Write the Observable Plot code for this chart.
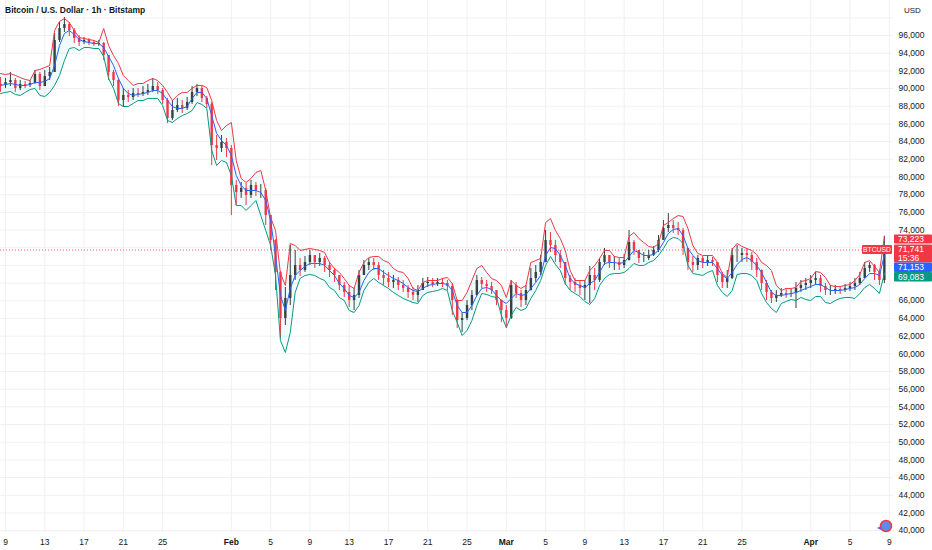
<!DOCTYPE html>
<html><head><meta charset="utf-8">
<script src="https://cdn.jsdelivr.net/npm/d3@7"></script>
<script src="https://cdn.jsdelivr.net/npm/@observablehq/plot@0.6"></script>
<style>html,body{margin:0;padding:0;background:#fff;}svg{display:block}</style>
</head><body><div id="chart"></div>
<script>
// 12-hour samples starting 2026-01-08 12:00 UTC
const startTime = "2026-01-08T12:00:00Z";
const firstOpen = 90500;
const closes = [
90350,90690,90910,90010,90460,90350,90570,91590,90230,91360,
91820,95440,96790,97250,96570,95660,95210,95440,95210,94980,
95100,93740,91820,90910,88650,89220,88990,89440,89330,89560,
89780,90230,89780,88650,86610,87520,88080,87750,88420,89560,
90010,88880,88200,83560,83220,83900,83220,79040,78250,78700,
77910,79040,78470,78470,75640,72820,69200,63990,66260,68860,
69990,69420,70330,71120,70330,70780,69990,69420,68860,67730,
66940,66030,66600,68860,69990,70330,69990,68860,68520,68070,
68290,67730,67390,66940,66600,67160,67950,68070,67840,68070,
67950,67610,66030,63770,63990,65460,66600,68290,67840,67610,
67160,66030,64900,63990,67730,66820,66030,67160,68520,69200,
70330,72820,72250,71120,70330,68520,68070,67730,67390,67730,
68860,68290,70330,71120,70330,70330,69990,70550,72590,71690,
70780,70780,71120,71690,72820,74170,74510,74170,73950,71910,
70330,69990,70780,70330,70550,70330,68860,68070,68520,71120,
71120,71350,71120,70330,69420,67950,66940,66260,66600,66820,
66710,66820,67390,67730,67950,68290,68520,67610,67160,67160,
67270,67160,67390,67610,67950,68520,69650,69990,69200,68290,
71741];
const highs = [
91250,91140,91820,91140,90910,90800,90910,92040,91820,92040,
92380,96230,97470,98040,97470,96790,96000,95780,95660,95440,
95440,95210,93740,92040,91140,90010,89780,90010,90010,90230,
90460,91140,90690,90010,88880,88650,88880,88650,88990,90230,
90460,90350,89100,88420,84690,84690,84350,83560,79600,79380,
79260,79600,79380,79150,78700,75640,72900,69300,67500,72250,
71690,70780,71010,71690,71120,71350,71010,70330,69650,68860,
68070,67730,67390,69420,70550,70780,70780,70330,69420,69200,
68860,68630,68290,67730,67500,67730,68520,68630,68520,68520,
68520,68290,67950,66100,64670,66030,67160,68860,68630,68290,
68070,67160,66100,65460,68290,68070,67160,67730,69650,69990,
71120,73950,73720,72820,71690,70330,68860,68520,68290,68290,
69880,69650,70780,71910,71120,71010,70780,71230,73950,72820,
71690,71460,71690,72140,73380,75080,75870,75080,74850,74170,
71910,71010,71120,71010,71120,70890,70330,69200,69420,71910,
72250,71910,71910,71460,70780,69500,68290,67160,67160,67390,
67390,67270,68070,68290,68520,68860,69200,68860,67950,67730,
67730,67610,67840,68070,68520,69200,70330,70330,70100,69420,
73300];
const lows = [
89560,90010,90230,89560,89780,90010,90120,90460,89780,90230,
90910,91820,95210,96340,95890,95100,94760,94980,94870,94760,
94760,93170,90910,90230,87970,87860,88420,88650,88990,89100,
89220,89560,89330,88200,86050,86390,87290,87180,87520,88200,
89100,88420,87750,81300,81860,82770,82200,75640,76770,77570,
76770,77570,77790,77570,74510,71690,67160,61730,63200,65460,
68290,68740,69200,69990,69650,69880,69200,68630,68070,67160,
66370,65240,64900,66260,68860,69420,69420,68290,67730,67500,
67390,67160,66940,66260,66030,65800,67160,67500,67500,67610,
67500,67160,64330,62860,62410,63770,64900,66500,67390,66940,
66710,65460,63540,62860,63900,66260,65240,65460,67100,68070,
68860,70300,71460,70330,69650,67730,67160,66940,66600,66030,
65690,67160,68070,69990,69650,69420,69420,69650,70500,71120,
70220,70330,70550,71010,71460,72820,73720,73610,73380,71120,
69420,69200,69420,69650,69880,69880,68070,67390,67390,68400,
70330,70330,70330,69420,68630,67160,66030,65690,65800,66370,
66260,66370,65130,66940,67160,67390,67730,66940,66600,66600,
66710,66710,66940,67050,67160,67730,68520,69200,68290,67730,
67950];
const upper = [
91700,91590,91700,91480,91250,91030,90910,92040,92160,92380,
92610,96570,97590,97920,97470,96570,95780,95660,95550,95440,
95210,96790,94870,93740,92840,91480,90910,90350,90570,90570,
90910,91140,90910,90350,89560,88650,89220,89560,89560,90010,
90350,90350,90120,88650,86390,85260,85820,86160,81860,79830,
79380,79830,80510,80730,78500,75400,73950,69080,67730,72480,
72250,71690,71800,71910,71800,71690,71460,70330,69650,69200,
68520,67730,67390,69200,70330,70890,71010,71010,70550,70330,
69650,69310,69200,68520,67390,67160,68070,68290,68290,68290,
68520,68630,67950,66030,66030,66940,68290,69650,69990,69200,
68520,68290,67730,66370,68290,67730,67390,67730,70330,70550,
70780,74850,75300,73950,73040,71690,69420,68290,68290,68290,
69420,69990,70780,71690,71690,71010,70890,70890,73270,73720,
73040,72590,72140,72020,72480,74510,74850,75300,75640,75530,
74170,72250,71350,71120,71120,71120,70330,69080,68630,71800,
72480,72140,71910,71690,71230,70330,69990,69420,67730,67160,
67390,67390,67500,68180,68290,68520,69310,69200,68630,67730,
67610,67610,67730,67840,68290,68970,70330,70550,69880,69200,
73223];
const lower = [
89440,89560,89670,89330,89220,89560,89890,90010,89220,89100,
89560,90350,91480,93170,94530,94640,94300,94640,94640,94530,
94530,93630,91140,90010,88310,87970,87970,88310,88650,88650,
88880,88880,88880,88080,86390,86160,86610,86950,87180,87520,
88420,88200,87750,83000,81300,81860,81640,80170,76770,76770,
76210,76770,77340,75640,73950,72250,68860,61500,60150,62410,
66940,68520,68860,68970,68860,68520,68290,67500,67160,66370,
66030,64900,64670,65460,67160,68070,68520,68070,67730,67390,
66940,66600,66260,66030,65800,65690,66600,66940,67050,67160,
67390,67160,64900,63540,62070,62640,63770,65460,66820,66710,
66480,66370,64330,62980,64330,65240,64900,65130,66260,67160,
68290,69990,71010,70100,69420,67950,67160,66820,66480,65920,
65580,66260,67730,68520,68970,69080,69080,69200,69650,70220,
69990,69990,70330,70550,71120,71910,72820,73160,73040,72480,
69990,69080,68970,68860,69200,69420,67730,66940,66480,67160,
68970,69080,69080,68860,68290,66820,65800,65130,64670,65690,
65920,66140,66030,66370,66140,66030,66480,66480,65800,65690,
66030,66260,66370,66370,66260,66820,67500,67840,67390,66820,
69083];
const mid = [
90350,90460,90570,90460,90350,90350,90460,90690,90690,90800,
91140,92610,94870,96230,96570,96110,95550,95320,95210,95100,
95100,94640,93630,92610,91140,90010,89440,89220,89330,89440,
89560,89780,89780,89440,88650,87970,87750,87750,87970,88880,
89560,89560,88880,86950,84920,84130,83560,82430,80170,79040,
78470,78470,78470,78250,77340,75080,71120,66600,64900,67390,
68860,69420,69880,70220,70220,70220,69990,69420,68860,67950,
67390,66600,66370,66940,68290,69200,69650,69650,69200,68860,
68520,68290,67950,67500,67160,67050,67390,67730,67840,67950,
67950,67840,67160,65460,64670,64670,65460,66600,67390,67500,
67270,66600,66030,65690,66260,66820,66600,66710,67390,68070,
68860,71120,72020,71910,71120,69990,68520,67950,67730,67500,
67950,68290,69200,70220,70330,70330,70220,70330,71010,71690,
71460,71120,71120,71230,71690,72590,73610,74060,74170,73380,
71910,71120,70550,70330,70330,70330,69650,68860,68520,69200,
70100,70670,70890,70550,69990,69200,68070,66940,66600,66600,
66710,66820,66940,67160,67390,67610,67840,67840,67500,67160,
67160,67160,67270,67390,67500,67840,68520,69080,69080,68860,
71153];

const lastPrice = 71741;
const lastLabels = {upper: 73223, price: 71741, mid: 71153, lower: 69083};
const countdown = "15:36";
const title = "Bitcoin / U.S. Dollar · 1h · Bitstamp";
const currency = "USD";
const symbol = "BTCUSD";
const xTickDates = ["2026-01-09","2026-01-13","2026-01-17","2026-01-21","2026-01-25",
  "2026-02-01","2026-02-05","2026-02-09","2026-02-13","2026-02-17","2026-02-21","2026-02-25",
  "2026-03-01","2026-03-05","2026-03-09","2026-03-13","2026-03-17","2026-03-21","2026-03-25",
  "2026-04-01","2026-04-05","2026-04-09"];
const yTickValues = d3.range(40000, 98001, 2000);
// labels hidden behind the header and the last-value tags on the price scale
const yHiddenLabels = [98000, 72000, 70000, 68000];

const n = Math.min(closes.length, highs.length, lows.length, upper.length, lower.length, mid.length);
const t0 = Date.parse(startTime);
const data = d3.range(n).map(i => ({
  t: new Date(t0 + i * 12 * 3600e3),
  open: i === 0 ? firstOpen : closes[i - 1],
  close: closes[i], high: highs[i], low: lows[i],
  upper: upper[i], lower: lower[i], mid: mid[i]
}));
const xTicks = xTickDates.map(d => new Date(d + "T00:00:00Z"));
const dayTicks = xTicks.filter(d => d.getUTCDate() !== 1);
const monthTicks = xTicks.filter(d => d.getUTCDate() === 1);
const yLabelTicks = yTickValues.filter(v => !yHiddenLabels.includes(v));

const UP = "#37423f", DOWN = "#f23645";
const col = d => d.close >= d.open ? UP : DOWN;
const FONT = "Liberation Sans, Arial, sans-serif";

const chart = Plot.plot({
  width: 932, height: 550,
  marginLeft: 0, marginRight: 39, marginTop: 0, marginBottom: 18,
  style: {fontFamily: FONT, fontSize: "8.5px", color: "#131722", background: "#fff"},
  x: {type: "utc", label: null, domain: [new Date("2026-01-08T11:47:00Z"), new Date("2026-04-09T10:20:00Z")]},
  y: {label: null, domain: [39790, 99960]},
  marks: [
    Plot.gridX(xTicks, {stroke: "#eef0f3", strokeOpacity: 1}),
    Plot.gridY(yTickValues, {stroke: "#eef0f3", strokeOpacity: 1}),
    Plot.areaY(data, {x: "t", y1: "lower", y2: "upper", fill: "#26c6da", fillOpacity: 0.07}),
    Plot.ruleY([lastPrice], {stroke: "#f23645", strokeDasharray: "1,2", strokeWidth: 0.8}),
    Plot.ruleX(data, {x: "t", y1: "low", y2: "high", stroke: col, strokeWidth: 1}),
    Plot.ruleX(data, {x: "t", y1: "open", y2: "close", stroke: col, strokeWidth: 2.4}),
    Plot.line(data, {x: "t", y: "upper", stroke: "#f23645", strokeWidth: 1}),
    Plot.line(data, {x: "t", y: "lower", stroke: "#089981", strokeWidth: 1}),
    Plot.line(data, {x: "t", y: "mid", stroke: "#2962ff", strokeWidth: 1}),
    Plot.axisX(dayTicks, {tickSize: 0, tickPadding: 6, fontSize: 8.5, fill: "#131722", label: null,
      tickFormat: d => String(d.getUTCDate())}),
    Plot.axisX(monthTicks, {tickSize: 0, tickPadding: 6, fontSize: 8.5, fill: "#131722", fontWeight: "bold", label: null,
      tickFormat: d3.utcFormat("%b")}),
    Plot.axisY(yLabelTicks, {anchor: "right", tickSize: 0, tickPadding: 5, textAnchor: "start", label: null,
      fontSize: 8.5, fill: "#131722", tickFormat: d3.format(",")})
  ]
});
document.getElementById("chart").appendChild(chart);

const ys = chart.scale("y");
const svg = d3.select(chart);
const ov = svg.append("g").attr("font-family", FONT).attr("text-anchor", "start");

// title
ov.append("text").attr("x", 5).attr("y", 13).attr("font-size", 8.5).attr("font-weight", 600)
  .attr("fill", "#131722").text(title);

// currency header
ov.append("rect").attr("x", 894).attr("y", 0).attr("width", 38).attr("height", 19).attr("fill", "#fff");
ov.append("text").attr("x", 904).attr("y", 13).attr("font-size", 8).attr("fill", "#131722").text(currency);

function box(top, h, fill, lines) {
  ov.append("rect").attr("x", 894).attr("y", top).attr("width", 38).attr("height", h).attr("fill", fill).attr("rx", 1);
  lines.forEach((ln, k) => {
    ov.append("text").attr("x", 898).attr("y", top + h / lines.length / 2 + k * (h / lines.length)).attr("dy", "0.35em")
      .attr("font-size", 8.5).attr("fill", "#fff").text(ln);
  });
}
const fmt = d3.format(",");
const yU = ys.apply(lastLabels.upper);
const yP = ys.apply(lastLabels.price);
box(yU - 2, 9, "#f23645", [fmt(lastLabels.upper)]);
box(yP - 5, 18, "#f23645", [fmt(lastLabels.price), countdown]);
box(yP + 13, 9.5, "#2962ff", [fmt(lastLabels.mid)]);
box(yP + 22.5, 9.5, "#089981", [fmt(lastLabels.lower)]);

// symbol tag
ov.append("rect").attr("x", 862).attr("y", yP - 4.5).attr("width", 30).attr("height", 9).attr("fill", "#f23645").attr("rx", 1);
ov.append("text").attr("x", 877).attr("y", yP).attr("dy", "0.35em").attr("text-anchor", "middle")
  .attr("font-size", 6.8).attr("fill", "#fff").text(symbol);

// small logo
ov.append("circle").attr("cx", 886).attr("cy", 526).attr("r", 5.5).attr("fill", "#5b8def").attr("stroke", "#f23645").attr("stroke-width", 1.5);
ov.append("path").attr("d", "M877,528 l4,-2 v4 z").attr("fill", "#7e57c2");
</script>
</body></html>
